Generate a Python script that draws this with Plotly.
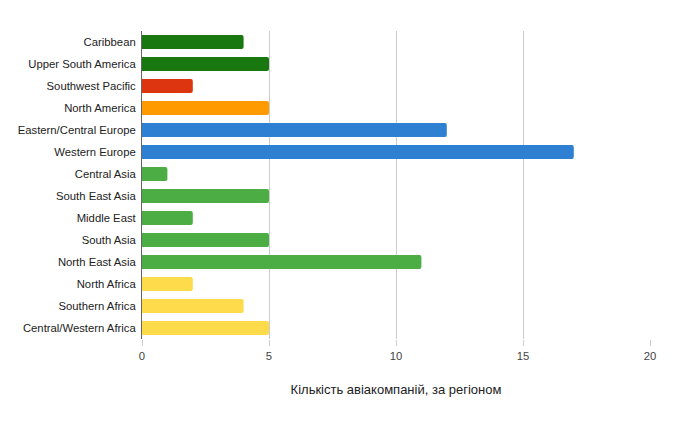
import plotly.graph_objects as go

categories = ["Caribbean", "Upper South America", "Southwest Pacific", "North America",
              "Eastern/Central Europe", "Western Europe", "Central Asia", "South East Asia",
              "Middle East", "South Asia", "North East Asia", "North Africa",
              "Southern Africa", "Central/Western Africa"]
values = [4, 5, 2, 5, 12, 17, 1, 5, 2, 5, 11, 2, 4, 5]
colors = ["#18780f", "#18780f", "#dc3510", "#ff9a00", "#2e80d2", "#2e80d2",
          "#4cad45", "#4cad45", "#4cad45", "#4cad45", "#4cad45",
          "#fddb4a", "#fddb4a", "#fddb4a"]
x_ticks = [0, 5, 10, 15, 20]
x_title = "Кількість авіакомпаній, за регіоном"

fig = go.Figure(go.Bar(
    x=values, y=categories, orientation="h",
    marker=dict(color=colors, cornerradius=2, line=dict(width=0)),
    width=0.64,
))

fig.update_layout(
    width=690, height=433,
    margin=dict(l=142, r=40, t=31, b=94),
    paper_bgcolor="white", plot_bgcolor="white",
    font=dict(family="Liberation Sans, Arial, sans-serif", size=11.3, color="#222222"),
    showlegend=False,
    bargap=0.36,
)
fig.update_xaxes(
    range=[0, 20], tickvals=x_ticks, showgrid=True, gridcolor="#cccccc", gridwidth=1,
    zeroline=False, ticks="outside", ticklen=6, tickcolor="#cccccc",
    tickfont=dict(size=11.3, color="#444444"),
    title=dict(text=x_title, font=dict(size=13, color="#222222"), standoff=24),
)
fig.update_yaxes(
    autorange="reversed", categoryorder="array", categoryarray=categories,
    showline=True, linecolor="#666666", linewidth=1, showgrid=False,
    ticks="", ticklabelstandoff=3,
)
fig.write_html("out.html")
